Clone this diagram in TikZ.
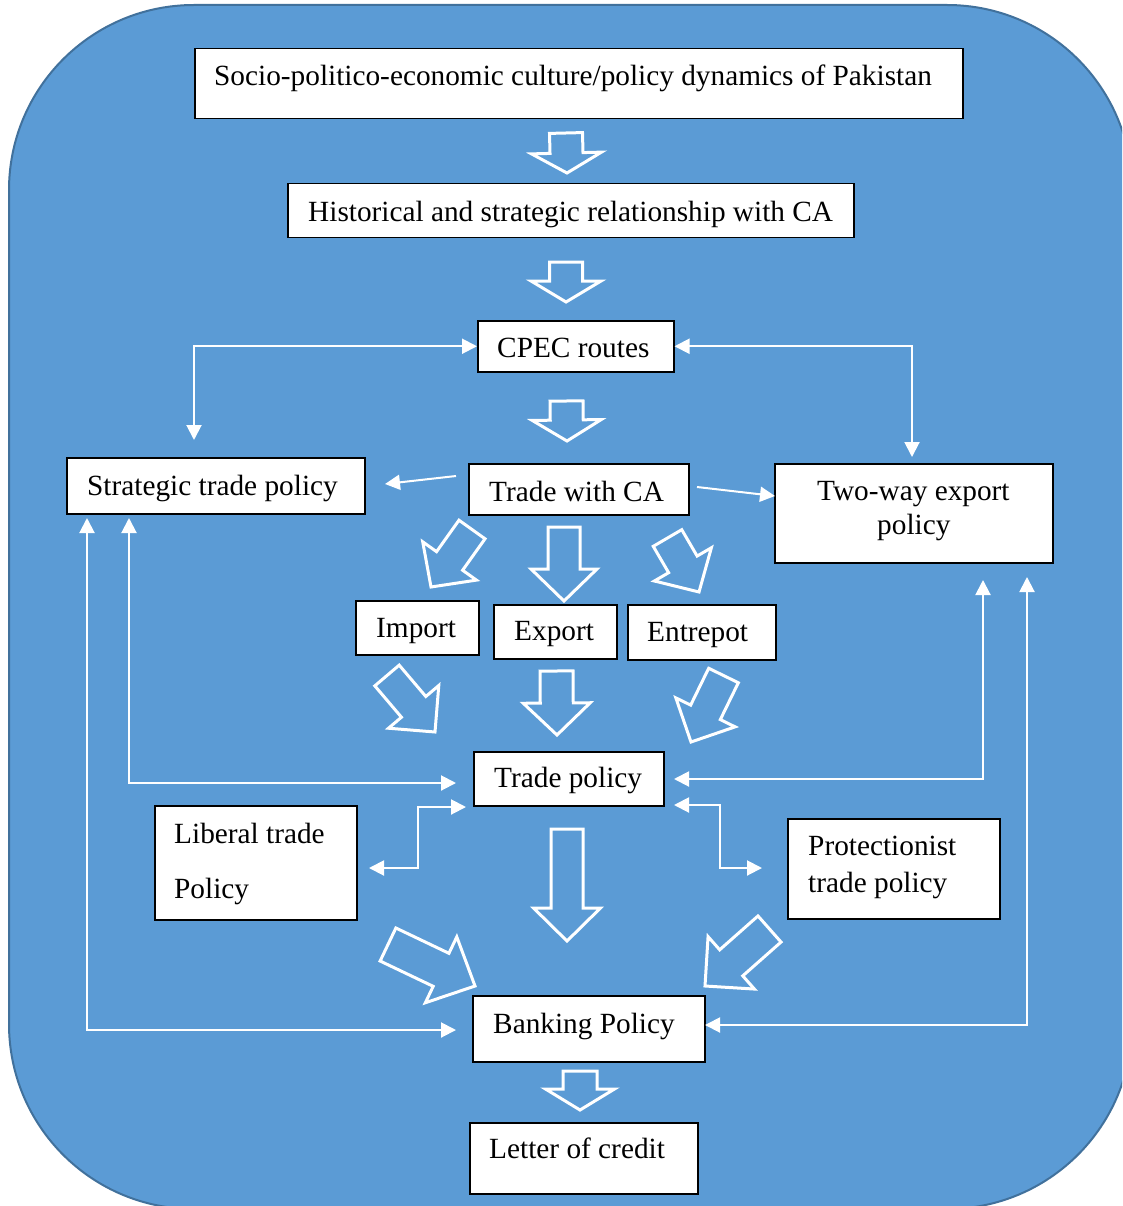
\documentclass[tikz,border=0pt]{standalone}
\usepackage{fontspec}
\setmainfont{Liberation Serif}
\usetikzlibrary{arrows.meta,calc}
\definecolor{bgblue}{HTML}{5B9BD5}
\definecolor{bgedge}{HTML}{41719C}
\tikzset{
  box/.style={draw=black, line width=1.5pt, fill=white, inner sep=0pt, anchor=north west},
  txt/.style={anchor=base west, inner sep=0pt, font=\fontsize{29.3}{34}\selectfont},
  conn/.style={draw=white, line width=2pt,
    arrows={Triangle[length=15pt,width=15pt]-Triangle[length=15pt,width=15pt]}},
  conn1/.style={draw=white, line width=2pt, arrows={-Triangle[length=15pt,width=15pt]}},
  blk/.style={draw=white, line width=3pt, line join=miter}
}
\newcommand\mybox[5]{\node[box, minimum width=#4pt, minimum height=#5pt] (#1) at (#2,#3) {};}
\newcommand\blockarr[5]{%
  \coordinate (T) at #1; \coordinate (P) at #2;
  \coordinate (H) at ($(P)!#3pt!(T)$);
  \draw[blk] ($(T)!#4pt!90:(P)$) -- ($(H)!#4pt!-90:(T)$) -- ($(H)!#5pt!-90:(T)$) -- (P)
    -- ($(H)!#5pt!90:(T)$) -- ($(H)!#4pt!90:(T)$) -- ($(T)!#4pt!-90:(P)$) -- cycle;}
\begin{document}
\begin{tikzpicture}[x=1pt,y=-1pt]
\clip (0,0) rectangle (1122,1206);
\fill[white] (0,0) rectangle (1122,1206);
\draw[fill=bgblue, draw=bgedge, line width=2pt, rounded corners=185pt] (9,5) rectangle (1132,1209);

% boxes
\mybox{socio}{194}{48}{768}{70}
\mybox{hist}{287}{183}{566}{54}
\mybox{cpec}{477}{320}{196}{51}
\mybox{strat}{66}{457}{298}{56}
\mybox{trade}{468}{463}{220}{51}
\mybox{twoway}{774}{463}{278}{99}
\mybox{import}{355}{600}{123}{54}
\mybox{export}{493}{604}{123}{54}
\mybox{entre}{627}{604}{148}{55}
\mybox{tpol}{473}{751}{190}{54}
\mybox{liberal}{154}{805}{202}{114}
\mybox{protect}{787}{818}{212}{100}
\mybox{bank}{472}{995}{232}{66}
\mybox{letter}{469}{1122}{228}{71}

% texts
\node[txt] (socio-t) at (214,86) {Socio-politico-economic culture/policy dynamics of Pakistan};
\node[txt] (hist-t) at (308,222) {Historical and strategic relationship with CA};
\node[txt] (cpec-t) at (497,357) {CPEC routes};
\node[txt] (strat-t) at (87,495) {Strategic trade policy};
\node[txt] (trade-t) at (489,501) {Trade with CA};
\node[txt] (twoway-t1) at (817,500) {Two-way export};
\node[txt] (twoway-t2) at (877,534) {policy};
\node[txt] (import-t) at (376,637) {Import};
\node[txt] (export-t) at (514,640) {Export};
\node[txt] (entre-t) at (647,641) {Entrepot};
\node[txt] (tpol-t) at (494,787) {Trade policy};
\node[txt] (liberal-t1) at (174,843) {Liberal trade};
\node[txt] (liberal-t2) at (174,898) {Policy};
\node[txt] (protect-t1) at (808,855) {Protectionist};
\node[txt] (protect-t2) at (808,892) {trade policy};
\node[txt] (bank-t) at (493,1033) {Banking Policy};
\node[txt] (letter-t) at (489,1158) {Letter of credit};

% connector end points
\coordinate (c1) at (194,440);
\coordinate (c2) at (912,457);
\coordinate (c3a) at (456,476);
\coordinate (c3b) at (385,484);
\coordinate (c4a) at (697,487);
\coordinate (c4b) at (775,496);
\coordinate (c5a) at (129,518);
\coordinate (c5b) at (456,783);
\coordinate (c6a) at (87,518);
\coordinate (c6b) at (456,1030);
\coordinate (c7a) at (983,580);
\coordinate (c7b) at (674,779);
\coordinate (c8a) at (1027,577);
\coordinate (c8b) at (705,1025);
\coordinate (c9a) at (466,807);
\coordinate (c9b) at (369,868);
\coordinate (c10a) at (674,805);
\coordinate (c10b) at (762,868);

% connectors
\draw[conn] (c1) |- (cpec.west);
\draw[conn] (cpec.east) -| (c2);
\draw[conn1] (c3a) -- (c3b);
\draw[conn1] (c4a) -- (c4b);
\draw[conn] (c5a) |- (c5b);
\draw[conn] (c6a) |- (c6b);
\draw[conn] (c7a) |- (c7b);
\draw[conn] (c8a) |- (c8b);
\draw[conn] (c9a) -- (418,807) |- (c9b);
\draw[conn] (c10a) -- (720,805) |- (c10b);

% block arrows
\blockarr{(566,133)}{(567,173)}{20}{16.5}{35}
\blockarr{(566,262)}{(566,302)}{21}{16.5}{35}
\blockarr{(566.5,401)}{(567,441)}{21}{16.5}{34.5}
\blockarr{(564,527)}{(564,601)}{32}{16}{33}
\blockarr{(472,529.5)}{(431,587)}{32}{16}{33}
\blockarr{(667.5,538)}{(699,592)}{32}{16.5}{33}
\blockarr{(387,675.5)}{(435,732)}{33}{16}{33}
\blockarr{(556.5,671)}{(557,735)}{32}{16.5}{33.5}
\blockarr{(723.5,675.5)}{(691,742)}{33}{16.5}{33}
\blockarr{(567,829)}{(567,941)}{33}{16}{33.5}
\blockarr{(388,944.5)}{(475,986)}{37.6}{18.3}{36.5}
\blockarr{(769.5,929)}{(705,986)}{35}{17.4}{35}
\blockarr{(580,1071)}{(580,1110)}{21}{17}{34.5}
\end{tikzpicture}
\end{document}
